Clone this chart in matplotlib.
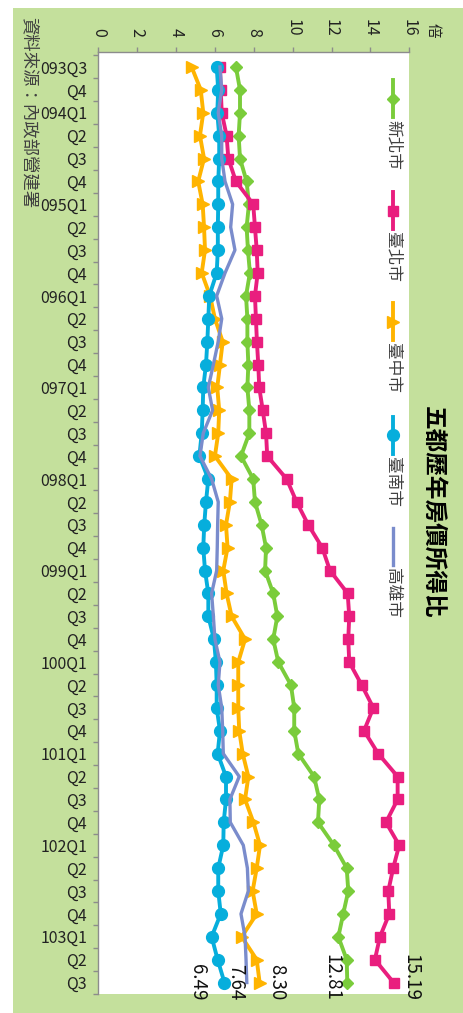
import matplotlib.pyplot as plt
from matplotlib.lines import Line2D
from matplotlib.patches import Rectangle

plt.rcParams['font.family'] = ['Noto Sans CJK TC', 'DejaVu Sans']

# 季別 (093Q3 ~ 103Q3)
categories = ['093Q3', 'Q4']
for yr in range(94, 103):
    categories += ['%03dQ1' % yr, 'Q2', 'Q3', 'Q4']
categories += ['103Q1', 'Q2', 'Q3']

# 房價所得比 (倍)
new_taipei = [7.08, 7.29, 7.29, 7.22, 7.29, 7.63, 7.75, 7.63, 7.70, 7.80,
              7.60, 7.67, 7.67, 7.72, 7.67, 7.77, 7.77, 7.34, 7.97, 8.06,
              8.40, 8.63, 8.58, 9.00, 9.21, 9.00, 9.26, 9.91, 10.08, 10.08,
              10.29, 11.10, 11.37, 11.30, 12.12, 12.78, 12.86, 12.60, 12.35, 12.78,
              12.81]
taipei = [6.26, 6.30, 6.35, 6.60, 6.69, 7.08, 7.97, 8.06, 8.15, 8.20,
          8.06, 8.11, 8.16, 8.23, 8.28, 8.46, 8.63, 8.69, 9.69, 10.20,
          10.80, 11.52, 11.92, 12.83, 12.91, 12.86, 12.91, 13.55, 14.15, 13.67,
          14.40, 15.40, 15.40, 14.80, 15.48, 15.17, 14.92, 14.97, 14.49, 14.23,
          15.19]
taichung = [4.80, 5.27, 5.40, 5.23, 5.44, 5.14, 5.37, 5.44, 5.49, 5.32,
            5.75, 6.00, 6.40, 6.26, 6.12, 6.22, 6.17, 6.00, 6.86, 6.77,
            6.57, 6.65, 6.43, 6.60, 6.86, 7.55, 7.20, 7.20, 7.20, 7.25,
            7.43, 7.72, 7.55, 7.98, 8.32, 8.15, 7.94, 8.15, 7.38, 8.15,
            8.30]
tainan = [6.09, 6.17, 6.12, 6.22, 6.22, 6.17, 6.17, 6.15, 6.15, 6.09,
          5.71, 5.66, 5.61, 5.54, 5.40, 5.37, 5.32, 5.20, 5.66, 5.54,
          5.45, 5.40, 5.49, 5.66, 5.66, 5.95, 6.05, 6.09, 6.09, 6.26,
          6.14, 6.57, 6.57, 6.45, 6.43, 6.17, 6.17, 6.30, 5.83, 6.14,
          6.49]
kaohsiung = [6.26, 6.35, 6.17, 6.35, 6.35, 6.52, 6.91, 6.81, 7.03, 6.52,
             6.09, 6.35, 6.17, 5.92, 5.66, 5.88, 5.40, 5.23, 5.83, 6.17,
             6.14, 6.12, 6.09, 5.83, 5.92, 6.00, 6.26, 6.17, 6.35, 6.40,
             6.43, 7.25, 6.77, 6.79, 7.46, 7.67, 7.72, 7.34, 7.55, 7.60,
             7.64]

names = ['新北市', '臺北市', '臺中市', '臺南市', '高雄市']
series = [new_taipei, taipei, taichung, tainan, kaohsiung]
colors = ['#7ACC3B', '#E91E7E', '#FFB400', '#06AEDC', '#7A8CCC']
markers = ['D', 's', '>', 'o', None]
msizes = [6.5, 6.5, 9, 8.5, 0]
lwidths = [2.8, 2.8, 2.8, 2.8, 2.4]

W, H = 464, 1013
fx = lambda px: px / W
fy = lambda py: 1 - py / H

fig = plt.figure(figsize=(W / 100, H / 100), dpi=100)
fig.patch.set_facecolor('white')
fig.add_artist(Rectangle((fx(13), 0), 1 - fx(13), fy(8), transform=fig.transFigure,
                         facecolor='#C4E09C', edgecolor='none', zorder=-5))

ax = fig.add_axes([fx(98.3), fy(994), fx(409.3) - fx(98.3), (994 - 52.5) / H])
ax.set_facecolor('white')

y = list(range(len(categories)))
for vals, c, m, ms, lw in zip(series, colors, markers, msizes, lwidths):
    ax.plot(vals, y, color=c, marker=m, markersize=ms, linewidth=lw,
            markeredgecolor=c, markerfacecolor=c, clip_on=False)

ax.set_xlim(0, 16)
ax.set_ylim(len(categories) - 0.5, -0.631)

# 數值軸 (上方)
ax.xaxis.tick_top()
ax.set_xticks(range(0, 17, 2))
ax.tick_params(axis='x', which='major', direction='out', length=3.6, width=1,
               color='#8C8C8C', pad=8, labelsize=11.5, labelcolor='#222222',
               labelrotation=-90)
for lab in ax.get_xticklabels():
    lab.set_va('bottom')
    lab.set_ha('center')

# 類別軸 (左方)
ax.set_yticks(y)
ax.set_yticklabels(categories)
ax.set_yticks([i - 0.5 for i in range(len(categories) + 1)], minor=True)
ax.tick_params(axis='y', which='major', length=0, pad=8, labelsize=11.5,
               labelcolor='#222222')
ax.tick_params(axis='y', which='minor', direction='out', length=3.6, width=1,
               color='#8C8C8C')

for s in ['right', 'bottom']:
    ax.spines[s].set_visible(False)
for s in ['top', 'left']:
    ax.spines[s].set_color('#8C8C8C')
    ax.spines[s].set_linewidth(1)

# 最後一期數值標籤
offsets = [(-11.3, -13), (12.8, -13), (12.2, -13), (-19.4, -13), (-8.4, -13)]
for vals, (dx, dy) in zip(series, offsets):
    ax.annotate('%.2f' % vals[-1], (vals[-1], y[-1]), xytext=(dx, dy),
                textcoords='offset points', rotation=-90, ha='center', va='bottom',
                fontsize=13.5, color='#111111', annotation_clip=False)

# 圖例 (直式)
starts = [80, 192, 303, 417, 528]
for name, c, m, ms, lw, ys in zip(names, colors, markers, msizes, lwidths, starts):
    fig.add_artist(Line2D([fx(393), fx(393)], [fy(ys), fy(ys + 37)],
                          transform=fig.transFigure, color=c, linewidth=lw))
    if m:
        fig.add_artist(Line2D([fx(393)], [fy(ys + 18.5)], transform=fig.transFigure,
                              marker=m, markersize=ms, color=c, linestyle='none'))
    fig.text(fx(393), fy(ys + 40), name, rotation=-90, ha='center', va='top',
             fontsize=12, color='#404040')

fig.text(fx(433), fy(512), '五都歷年房價所得比', rotation=-90, ha='center',
         va='center', fontsize=17, fontweight='bold', color='black')
fig.text(fx(433), fy(30), '倍', rotation=-90, ha='center', va='center',
         fontsize=10.5, color='#222222')
fig.text(fx(29), fy(17), '資料來源：內政部營建署', rotation=-90, ha='center',
         va='top', fontsize=12.5, color='#404040')

plt.savefig('out.png', dpi=100)
